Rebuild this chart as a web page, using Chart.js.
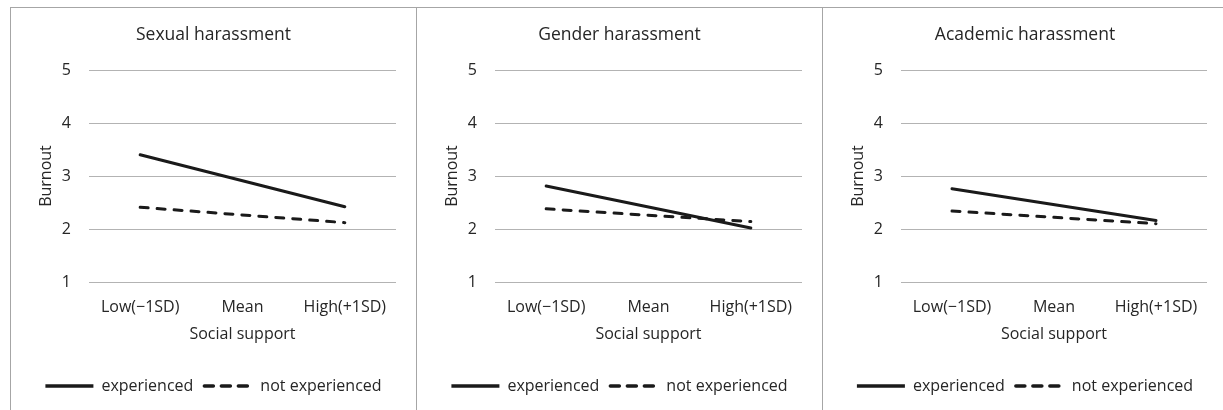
<!DOCTYPE html>
<html>
<head>
<meta charset="utf-8">
<script src="https://cdn.jsdelivr.net/npm/chart.js@4/dist/chart.umd.min.js"></script>
<style>
  html, body { margin: 0; padding: 0; background: #ffffff; }
  body { width: 1223px; height: 410px; position: relative; overflow: hidden; }
  .panel { position: absolute; top: 0; height: 410px; }
  .vline { position: absolute; top: 7px; width: 1px; height: 403px; background: #a6a6a6; }
  .hline { position: absolute; top: 7px; height: 1px; background: #a6a6a6; left: 10px; width: 1213px; }
</style>
</head>
<body>
<div class="hline"></div>
<div class="vline" style="left:10px"></div>
<div class="vline" style="left:416px"></div>
<div class="vline" style="left:822px"></div>
<div class="panel" style="left:11px;width:405px"><canvas id="c0"></canvas></div>
<div class="panel" style="left:417px;width:405px"><canvas id="c1"></canvas></div>
<div class="panel" style="left:823px;width:400px"><canvas id="c2"></canvas></div>
<script>
// ---- data ----
const categories = ["Low(\u22121SD)", "Mean", "High(+1SD)"];
const panelTitles = ["Sexual harassment", "Gender harassment", "Academic harassment"];
const seriesNames = ["experienced", "not experienced"];
// Mean left empty: lines are drawn straight from Low to High
const sexualExperienced     = [3.40, null, 2.42];
const sexualNotExperienced  = [2.41, null, 2.12];
const genderExperienced     = [2.81, null, 2.02];
const genderNotExperienced  = [2.38, null, 2.14];
const academicExperienced   = [2.76, null, 2.16];
const academicNotExperienced= [2.34, null, 2.10];
const yTicks = [1, 2, 3, 4, 5];
const xAxisTitle = "Social support";
const yAxisTitle = "Burnout";

const panels = [
  [sexualExperienced, sexualNotExperienced],
  [genderExperienced, genderNotExperienced],
  [academicExperienced, academicNotExperienced]
];

const FONT = "'Open Sans', 'Noto Sans', sans-serif";
const TEXT = "#262626";
const LINE = "#1a1a1a";
const legendDash = [[], [9, 8]];

panels.forEach((series, i) => {
  const el = document.getElementById("c" + i);
  const w = i === 2 ? 400 : 405;
  el.width = w; el.height = 410;
  new Chart(el, {
    type: "line",
    data: {
      labels: categories,
      datasets: [
        {
          label: seriesNames[0], data: series[0], borderColor: LINE, backgroundColor: LINE,
          borderWidth: 3, pointRadius: 0, spanGaps: true, tension: 0, borderCapStyle: "round"
        },
        {
          label: seriesNames[1], data: series[1], borderColor: LINE, backgroundColor: LINE,
          borderWidth: 3, borderDash: [8, 9], borderCapStyle: "round",
          pointRadius: 0, spanGaps: true, tension: 0
        }
      ]
    },
    options: {
      responsive: false,
      animation: false,
      devicePixelRatio: 1,
      layout: { padding: { left: 20, right: i === 2 ? 16 : 20, top: 0, bottom: 6 } },
      plugins: {
        tooltip: { enabled: false },
        title: {
          display: true, text: panelTitles[i], color: TEXT,
          font: { family: FONT, size: 17.5, weight: "normal", lineHeight: 1.2 },
          padding: { top: 25, bottom: 24 }
        },
        legend: {
          position: "bottom",
          labels: {
            usePointStyle: true, pointStyle: "line", pointStyleWidth: 48,
            color: TEXT, font: { family: FONT, size: 16 }, padding: 11,
            generateLabels: (chart) => {
              const items = Chart.defaults.plugins.legend.labels.generateLabels(chart);
              items.forEach((it, k) => {
                it.lineDash = legendDash[k];
                it.lineWidth = 3.5;
                it.strokeStyle = LINE;
                it.lineCap = k === 1 ? "round" : "butt";
                it.pointStyle = "line";
              });
              return items;
            }
          }
        }
      },
      scales: {
        x: {
          offset: true,
          grid: { display: false, drawTicks: false },
          border: { display: false },
          ticks: { color: TEXT, font: { family: FONT, size: 16 }, padding: 16, maxRotation: 0 },
          title: { display: true, text: xAxisTitle, color: TEXT, font: { family: FONT, size: 16 }, padding: { top: 4, bottom: 23 } },
          afterFit: (s) => { s.height = 85; }
        },
        y: {
          min: 1, max: 5,
          afterBuildTicks: (s) => { s.ticks = yTicks.map(v => ({ value: v })); },
          grid: { color: "#b3b3b3", lineWidth: 1, drawTicks: false },
          border: { display: false },
          ticks: { color: TEXT, font: { family: FONT, size: 16 }, padding: 18 },
          title: { display: true, text: yAxisTitle, color: TEXT, font: { family: FONT, size: 16 }, padding: { top: 5.5, bottom: 0 } },
          afterFit: (s) => { s.width = 58; }
        }
      }
    }
  });
});
</script>
</body>
</html>
